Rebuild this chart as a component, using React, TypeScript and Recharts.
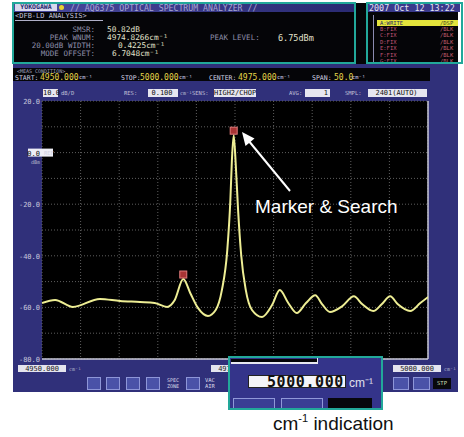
import React from "react";
import {
  ComposedChart,
  Line,
  XAxis,
  YAxis,
  CartesianGrid,
  ReferenceDot,
  ReferenceLine,
} from "recharts";

// trace (cm-1 / dBm)
const wavenumbers = [
  4950.0, 4951.7, 4954.0, 4957.5, 4960.1, 4962.7, 4964.6, 4966.2, 4967.2, 4968.3,
  4969.2, 4970.2, 4971.5, 4972.5, 4973.3, 4974.0, 4974.4, 4974.6, 4974.83, 4975.1,
  4975.4, 4975.8, 4976.4, 4977.2, 4978.5, 4979.8, 4980.8, 4981.9, 4983.0, 4984.2,
  4985.4, 4986.3, 4987.3, 4988.9, 4990.4, 4991.5, 4992.9, 4994.0, 4995.1, 4996.1,
  4997.7, 4999.0, 5000.0,
];
const levels = [
  -58.3, -57.1, -59.8, -56.7, -57.5, -57.9, -58.3, -59.8, -57.1, -49.0,
  -54.4, -60.2, -63.3, -61.0, -53.3, -37.8, -18.4, -2.9, 6.75, -4.8,
  -22.3, -39.7, -53.3, -61.0, -63.7, -59.1, -53.3, -58.3, -62.2, -58.3,
  -55.3, -58.8, -61.8, -59.5, -55.7, -58.8, -61.4, -58.8, -55.7, -58.8,
  -61.4, -58.3, -56.0,
];

const markerWn = [4974.83, 4968.3];
const markerLevel = [6.75, -49.0];

const xTicks = [4950, 4955, 4960, 4965, 4970, 4975, 4980, 4985, 4990, 4995, 5000];
const xTickLabels = ["4950.000", "", "", "", "", "4975.000", "", "", "", "", "5000.000"];
const yTicks = [20, 10, 0, -10, -20, -30, -40, -50, -60, -70, -80];
const yTickLabels = ["20.0", "", "0.0", "", "-20.0", "", "-40.0", "", "-60.0", "", "-80.0"];

const traceData = wavenumbers.map((wn, i) => ({ wn, lvl: levels[i] }));

const MONO = '"DejaVu Sans Mono", monospace';
const SANS = '"Liberation Sans", Arial, sans-serif';
const NAVY = "#30307a";
const TEAL = "#22a89a";
const CM = "cm\u207B\u00B9";

function T({ x, y, s = 7, c = "#c4c4dc", w, align, bold, ls, children }: any) {
  return (
    <div
      style={{
        position: "absolute",
        left: x,
        top: y,
        width: w,
        textAlign: align,
        fontSize: s,
        lineHeight: 1,
        color: c,
        whiteSpace: "nowrap",
        fontWeight: bold ? 700 : 400,
        letterSpacing: ls,
      }}
    >
      {children}
    </div>
  );
}

function B({ x, y, w, h, bg, border, children, style }: any) {
  return (
    <div
      style={{
        position: "absolute",
        left: x,
        top: y,
        width: w,
        height: h,
        background: bg,
        border,
        boxSizing: "border-box",
        ...style,
      }}
    >
      {children}
    </div>
  );
}

function ValBox({ x, y, w, text, align = "center" }: any) {
  return (
    <B x={x} y={y} w={w} h={8} bg="#e6e6f0">
      <div style={{ fontSize: 7, lineHeight: "8px", color: "#111", textAlign: align, paddingRight: 2 }}>{text}</div>
    </B>
  );
}

function XTick(p: any) {
  const i = xTicks.indexOf(p.payload.value);
  const label = xTickLabels[i];
  if (!label) return <g />;
  const last = i === xTicks.length - 1;
  const cx = last ? p.x - 11 : p.x;
  return (
    <g fontFamily={MONO}>
      <rect x={cx - 24} y={p.y + 6} width={48} height={7} fill="#e4e4ee" />
      <text x={cx} y={p.y + 12} textAnchor="middle" fontSize={7} fill="#222">
        {label}
      </text>
      <text x={cx + 27} y={p.y + 12} fontSize={5} fill="#b8b8d0">
        {CM}
      </text>
    </g>
  );
}

function YTick(p: any) {
  const i = yTicks.indexOf(p.payload.value);
  const label = yTickLabels[i];
  if (!label) return <g />;
  if (p.payload.value === 0) {
    return (
      <g fontFamily={MONO}>
        <rect x={15} y={p.y - 4} width={25} height={8} fill="#eeeef6" />
        <text x={p.x} y={p.y + 3} textAnchor="end" fontSize={7} fill="#111">
          {label}
        </text>
        <text x={p.x + 4} y={p.y + 2} fontSize={5.5} fill="#d0d0e0">
          REF
        </text>
        <text x={p.x} y={p.y + 11} textAnchor="end" fontSize={5} fill="#b0b0c8">
          dBm
        </text>
      </g>
    );
  }
  return (
    <text x={p.x} y={p.y + 3} textAnchor="end" fontSize={7} fill="#c8c8dc" fontFamily={MONO}>
      {label}
    </text>
  );
}

const rowNames = ["A:WRITE", "B:FIX", "C:FIX", "D:FIX", "E:FIX", "F:FIX", "G:FIX"];

export default function App() {
  return (
    <div
      style={{
        position: "absolute",
        left: 0,
        top: 0,
        width: 464,
        height: 437,
        background: "#fff",
        overflow: "hidden",
        fontFamily: MONO,
      }}
    >
      {/* screen body */}
      <B x={13} y={3} w={445} h={389} bg={NAVY} />
      <B x={13} y={3} w={445} h={61} bg="#050508" />

      {/* title bar */}
      <B x={13} y={3} w={342} h={9} bg="linear-gradient(to right, #4a4aa0, #2a2a72)" />
      <B x={15} y={4} w={42} h={7} bg="#d8d8ec">
        <div style={{ fontSize: 6.5, lineHeight: "7px", color: "#24246a", fontWeight: 700, textAlign: "center" }}>
          YOKOGAWA
        </div>
      </B>
      <B x={59} y={5} w={5} h={5} bg="#e8d030" style={{ borderRadius: 3 }} />
      <T x={70} y={4} s={8.2} c="#a6a6d4">
        // AQ6375 OPTICAL SPECTRUM ANALYZER //
      </T>

      {/* analysis block */}
      <T x={15} y={13} s={7} c="#c0c0d8">
        &lt;DFB-LD ANALYSIS&gt;
      </T>
      <B x={15} y={20} w={88} h={1} bg="#b0b0c8" />
      <T x={10} y={26} w={85} align="right" s={7.5} c="#8e8ea8">SMSR:</T>
      <T x={10} y={34} w={85} align="right" s={7.5} c="#8e8ea8">PEAK WNUM:</T>
      <T x={10} y={42} w={85} align="right" s={7.5} c="#8e8ea8">20.00dB WIDTH:</T>
      <T x={10} y={50} w={85} align="right" s={7.5} c="#8e8ea8">MODE OFFSET:</T>
      <T x={107} y={26} s={7.8} c="#e2e2cc">50.82dB</T>
      <T x={107} y={34} s={7.8} c="#e2e2cc">4974.8266{CM}</T>
      <T x={118} y={42} s={7.8} c="#e2e2cc">0.4225{CM}</T>
      <T x={112} y={50} s={7.8} c="#e2e2cc">6.7048{CM}</T>
      <T x={210} y={34} s={7.5} c="#8e8ea8">PEAK LEVEL:</T>
      <T x={278} y={34} s={8.5} c="#e2e2cc">6.75dBm</T>

      {/* trace list */}
      <B x={368} y={3} w={92} h={9} bg="#3a3a8c" />
      <T x={369} y={4} s={8.4} c="#e4e4f4">2007 Oct 12 13:22</T>
      <B x={373} y={15} w={1} h={47} bg="#8a8ab0" />
      {rowNames.map((name, i) => (
        <div key={name}>
          {i === 0 && <B x={377} y={20} w={81} h={6} bg="#e4e43c" />}
          <T x={380} y={20.5 + i * 6.4} s={5.5} c={i === 0 ? "#2a2a60" : "#c8587a"}>
            {name}
          </T>
          <T x={440} y={20.5 + i * 6.4} s={5.5} c={i === 0 ? "#404020" : "#c86070"}>
            {i === 0 ? "/DSP" : "/BLK"}
          </T>
        </div>
      ))}

      {/* teal highlight frames */}
      <B x={12} y={2} w={344} h={62} border={`2.5px solid ${TEAL}`} />
      <B x={366} y={2} w={97} h={62} border={`2.5px solid ${TEAL}`} />

      {/* measurement conditions */}
      <B x={13} y={68} w={417} h={13} bg="#050508" />
      <T x={17} y={68.5} s={5} c="#a0a0bc">&lt;MEAS CONDITION&gt;</T>
      <T x={15} y={74.5} s={6.5} c="#d4d4e4">START:</T>
      <T x={40} y={73.5} s={8} c="#e6d648">4950.000</T>
      <T x={79} y={74.5} s={5.5} c="#d4d4e4">{CM}</T>
      <T x={121} y={74.5} s={6.5} c="#d4d4e4">STOP:</T>
      <T x={140} y={73.5} s={8} c="#e6d648">5000.000</T>
      <T x={179} y={74.5} s={5.5} c="#d4d4e4">{CM}</T>
      <T x={209} y={74.5} s={6.5} c="#d4d4e4">CENTER:</T>
      <T x={238} y={73.5} s={8} c="#e6d648">4975.000</T>
      <T x={277} y={74.5} s={5.5} c="#d4d4e4">{CM}</T>
      <T x={312} y={74.5} s={6.5} c="#d4d4e4">SPAN:</T>
      <T x={334} y={73.5} s={8} c="#e6d648">50.0</T>
      <T x={352} y={74.5} s={5.5} c="#d4d4e4">{CM}</T>

      {/* settings row */}
      <ValBox x={43} y={89} w={15} text="10.0" />
      <T x={61} y={90.5} s={5.5} c="#c0c0d8">dB/D</T>
      <T x={124} y={90.5} s={5.5} c="#c0c0d8">RES:</T>
      <ValBox x={148} y={89} w={30} text="0.100" />
      <T x={180} y={91} s={5} c="#c0c0d8">{CM}</T>
      <T x={192} y={90.5} s={5.5} c="#c0c0d8">SENS:</T>
      <ValBox x={214} y={89} w={42} text="HIGH2/CHOP" />
      <T x={289} y={90.5} s={5.5} c="#c0c0d8">AVG:</T>
      <ValBox x={305} y={89} w={25} text="1" align="right" />
      <T x={345} y={90.5} s={5.5} c="#c0c0d8">SMPL:</T>
      <ValBox x={368} y={89} w={59} text="2401(AUTO)" />

      {/* spectrum */}
      <div style={{ position: "absolute", left: 13, top: 96 }}>
        <ComposedChart
          width={445}
          height={277}
          data={traceData}
          margin={{ top: 5, right: 30, bottom: 0, left: 0 }}
        >
          <CartesianGrid stroke="#5e5e5e" strokeDasharray="1 2" fill="#000" fillOpacity={1} />
          <XAxis
            type="number"
            dataKey="wn"
            domain={[4950, 5000]}
            ticks={xTicks}
            interval={0}
            height={14}
            tickSize={0}
            tickMargin={0}
            tickLine={false}
            axisLine={{ stroke: "#c8c8d8", strokeWidth: 1.5 }}
            tick={(p: any) => <XTick {...p} />}
            allowDataOverflow
          />
          <YAxis
            type="number"
            domain={[-80, 20]}
            ticks={yTicks}
            interval={0}
            width={29}
            tickSize={0}
            tickMargin={2}
            tickLine={false}
            axisLine={false}
            tick={(p: any) => <YTick {...p} />}
            allowDataOverflow
          />
          <ReferenceLine x={5000} stroke="#c8c8d8" strokeWidth={1.5} />
          <Line
            type="monotone"
            dataKey="lvl"
            stroke="#eeee94"
            strokeWidth={2}
            dot={false}
            isAnimationActive={false}
          />
          {markerWn.map((wn, i) => (
            <ReferenceDot
              key={wn}
              x={wn}
              y={markerLevel[i]}
              r={3}
              shape={(p: any) => (
                <rect x={p.cx - 3.5} y={p.cy - 8} width={7} height={7} fill="#a83434" stroke="#e07a7a" strokeWidth={1} />
              )}
            />
          ))}
        </ComposedChart>
      </div>

      {/* bottom soft keys */}
      {[87, 106, 126, 146, 186].map((x) => (
        <B key={x} x={x} y={377} w={14} h={13} bg="#4a52a8" border="1px solid #8e96d8" />
      ))}
      <T x={167} y={378} s={5} c="#d8d8e8">SPEC</T>
      <T x={167} y={384} s={5} c="#d8d8e8">ZONE</T>
      <T x={205} y={378} s={5.5} c="#d8d8e8">VAC</T>
      <T x={205} y={384} s={5.5} c="#d8d8e8">AIR</T>
      <B x={393} y={377} w={16} h={13} bg="#4a52a8" border="1px solid #8e96d8" />
      <B x={413} y={377} w={17} h={13} bg="#4a52a8" border="1px solid #8e96d8" />
      <B x={433} y={378} w={18} h={11} bg="#08080c">
        <div style={{ fontSize: 5.5, lineHeight: "11px", color: "#c8d8b0", textAlign: "center" }}>STP</div>
      </B>

      {/* wavenumber entry panel */}
      <B x={228} y={356} w={155} h={54} bg="#34348a" border={`2.5px solid ${TEAL}`} />
      <B x={231} y={358.5} w={87} h={4} bg="#050508" />
      <B x={231} y={362} w={87} h={1.5} bg="#e8e8f0" />
      <B x={316.5} y={357.5} w={1.5} h={6} bg="#e8e8f0" />
      <B x={248} y={375} w={98} h={13} bg="#f4f4f8" border="1px solid #222" />
      <T x={248} y={374.5} w={96} align="right" s={15} c="#111" bold ls={0.6}>
        5000.000
      </T>
      <T x={349} y={376.5} s={12} c="#e0e0ec" style={{ fontFamily: SANS }}>
        <span style={{ fontFamily: SANS }}>{CM}</span>
      </T>
      <B x={233} y={398} w={42} h={11} bg="#3a3e94" border="1px solid #9098d8" />
      <B x={281} y={398} w={42} h={11} bg="#3a3e94" border="1px solid #9098d8" />
      <B x={328} y={398} w={44} h={11} bg="#07070c" />
      <B x={228} y={356} w={155} h={54} border={`2.5px solid ${TEAL}`} />

      {/* annotations */}
      <svg width={464} height={437} style={{ position: "absolute", left: 0, top: 0, pointerEvents: "none" }}>
        <line x1={290} y1={191} x2={248} y2={140} stroke="#fff" strokeWidth={2} />
        <polygon points="242,132 254.5,138.5 245.5,146" fill="#fff" />
        <text x={255} y={213} fontFamily={SANS} fontSize={19} fill="#fff">
          Marker &amp; Search
        </text>
        <text x={273} y={430} fontFamily={SANS} fontSize={19} fill="#111">
          cm
          <tspan fontSize={11} dy={-8}>
            -1
          </tspan>
          <tspan dy={8}> indication</tspan>
        </text>
      </svg>
    </div>
  );
}
